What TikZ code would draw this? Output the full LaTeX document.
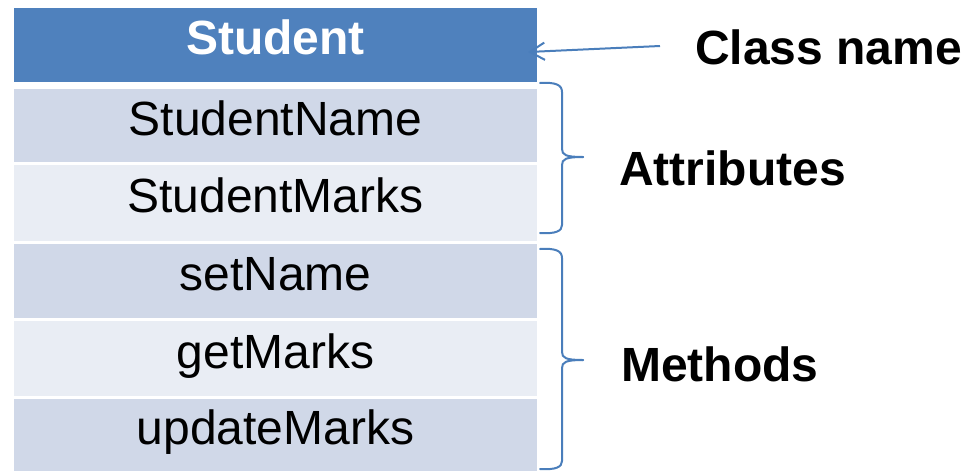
\documentclass[tikz,border=0pt]{standalone}
\usepackage{fontspec}
\setmainfont{Liberation Sans}
\usetikzlibrary{arrows.meta}
\definecolor{hdrblue}{HTML}{4F81BD}
\definecolor{rowdark}{HTML}{D0D8E8}
\definecolor{rowlight}{HTML}{E9EDF4}
\definecolor{linkblue}{HTML}{4A7EBB}
\tikzset{
  px/.style={x=0.75pt,y=-0.75pt},
  rowbox/.style={draw=none,inner sep=0pt,minimum width=392.25pt,
    font=\fontsize{36}{40}\selectfont,text height=25pt,text depth=10.75pt},
  hdrbox/.style={rowbox,fill=hdrblue,text=white,font=\fontsize{36}{40}\selectfont\bfseries},
  sidelabel/.style={anchor=base west,inner sep=0pt,font=\fontsize{36}{40}\selectfont\bfseries},
  brace/.style={draw=linkblue,line width=1.5pt,line cap=round},
  pointer/.style={draw=linkblue,line width=1.5pt,-{Straight Barb[length=11pt,width=13pt,line width=1.5pt]}}
}
\begin{document}
\begin{tikzpicture}[px]
\useasboundingbox (0,0) rectangle (963,471);
% table rows
\node[hdrbox,minimum height=55.5pt] (hdr) at (275.5,45) {Student};
\node[rowbox,fill=rowdark,minimum height=54.75pt] (r1) at (275.5,125.5) {StudentName};
\node[rowbox,fill=rowlight,minimum height=57pt] (r2) at (275.5,203) {StudentMarks};
\node[rowbox,fill=rowdark,minimum height=55.5pt] (r3) at (275.5,281) {setName};
\node[rowbox,fill=rowlight,minimum height=56.25pt] (r4) at (275.5,358.5) {getMarks};
\node[rowbox,fill=rowdark,minimum height=54pt] (r5) at (275.5,435) {updateMarks};
% side labels
\node[sidelabel] (cname) at (695,64) {Class name};
\node[sidelabel] (attr) at (619,185) {Attributes};
\node[sidelabel] (meth) at (621,381) {Methods};
% pointer to class name
\coordinate (atail) at (660,46);
\coordinate (ahead) at (528,52);
\draw[pointer] (atail) -- (ahead);
% brace for attributes
\draw[brace] (540,83) .. controls (556,82) and (562,85) .. (562,92) -- (562,149)
  .. controls (562,155) and (566,157) .. (583,157);
\draw[brace] (583,157) .. controls (566,157) and (562,159) .. (562,165) -- (562,225)
  .. controls (562,231) and (556,234) .. (540,233);
% brace for methods
\draw[brace] (540,249) .. controls (556,248) and (562,251) .. (562,258) -- (562,352)
  .. controls (562,358) and (566,360) .. (583,360);
\draw[brace] (583,360) .. controls (566,360) and (562,362) .. (562,368) -- (562,461)
  .. controls (562,467) and (556,470) .. (540,469);
\end{tikzpicture}
\end{document}
